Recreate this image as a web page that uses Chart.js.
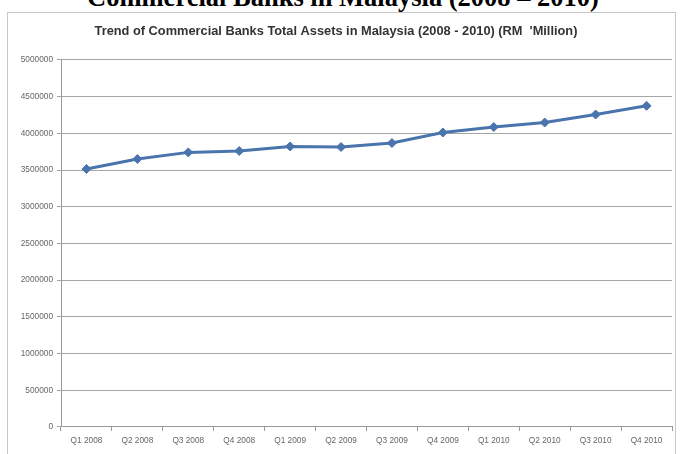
<!DOCTYPE html>
<html>
<head>
<meta charset="utf-8">
<script src="https://cdn.jsdelivr.net/npm/chart.js@4/dist/chart.umd.min.js"></script>
<style>
  html, body { margin: 0; padding: 0; background: #fff; width: 686px; height: 454px; overflow: hidden; }
  #heading { position: absolute; left: 0; width: 686px; top: -18px; line-height: 30px; text-align: center;
    font-family: "Liberation Serif", "DejaVu Serif", serif; font-size: 26.5px; font-weight: bold; color: #000; white-space: nowrap; }
  #frame { position: absolute; left: 7px; top: 12px; width: 669px; height: 460px;
    border: 1px solid #c8c8c8; box-sizing: border-box; }
  #wrap { position: absolute; left: 0; top: 0; width: 686px; height: 454px; }
</style>
</head>
<body>
<div id="heading">Commercial Banks in Malaysia (2008 – 2010)</div>
<div id="frame"></div>
<div id="wrap"><canvas id="c" width="686" height="454"></canvas></div>
<script>
const chartTitle = "Trend of Commercial Banks Total Assets in Malaysia (2008 - 2010) (RM  'Million)";
const quarters = ["Q1 2008","Q2 2008","Q3 2008","Q4 2008","Q1 2009","Q2 2009","Q3 2009","Q4 2009","Q1 2010","Q2 2010","Q3 2010","Q4 2010"];
const totalAssets = [3515000, 3651000, 3741000, 3760000, 3822000, 3814000, 3868000, 4012000, 4086000, 4148000, 4257000, 4375000];
const yTickMin = 0;
const yTickMax = 5000000;
const yTickStep = 500000;

new Chart(document.getElementById('c'), {
  type: 'line',
  data: {
    labels: quarters,
    datasets: [{
      data: totalAssets,
      borderColor: '#4a74ad',
      backgroundColor: '#4a74ad',
      borderWidth: 3,
      pointStyle: 'rectRot',
      pointRadius: 4.5,
      pointBorderWidth: 1,
      tension: 0
    }]
  },
  options: {
    responsive: false,
    animation: false,
    devicePixelRatio: 1,
    layout: { padding: { left: 0, right: 14, top: 0, bottom: 0 } },
    plugins: {
      legend: { display: false },
      tooltip: { enabled: false },
      title: {
        display: true,
        text: chartTitle,
        color: '#333',
        font: { family: 'Arial, "Liberation Sans", sans-serif', size: 12.8, weight: 'bold', lineHeight: 1.2 },
        padding: { top: 23.3, bottom: 21.3 }
      }
    },
    scales: {
      x: {
        offset: true,
        grid: { display: true, drawOnChartArea: false, offset: true, tickLength: 4, color: '#999' },
        border: { color: '#999', width: 1 },
        ticks: { color: '#666', font: { family: 'Arial, "Liberation Sans", sans-serif', size: 8.3 }, maxRotation: 0, autoSkip: false, padding: 5 },
        afterFit: (s) => { s.height = 27; }
      },
      y: {
        min: yTickMin,
        max: yTickMax,
        ticks: { stepSize: yTickStep, color: '#666', font: { family: 'Arial, "Liberation Sans", sans-serif', size: 8.3 }, padding: 4,
          callback: (v) => String(v) },
        grid: { color: '#a6a6a6', lineWidth: 1, tickLength: 4 },
        border: { color: '#999', width: 1 },
        afterFit: (s) => { s.width = 61; }
      }
    }
  }
});
</script>
</body>
</html>
